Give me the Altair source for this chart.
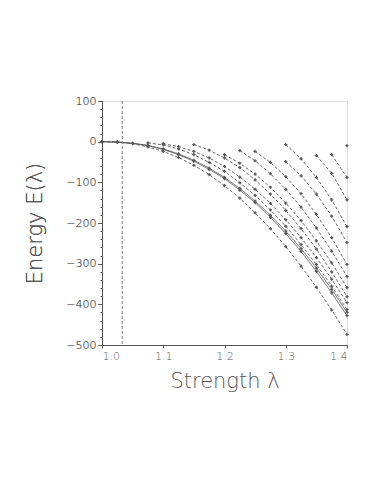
import altair as alt
import pandas as pd

STEP = 0.025

curve_names = ["S1", "S2", "L", "A", "B", "C", "D", "E", "F", "G", "H", "I", "J", "K"]
curve_start = [1.0, 1.0, 1.0, 1.075, 1.1, 1.15, 1.2, 1.225, 1.25, 1.3, 1.3, 1.35, 1.375, 1.4]
curve_kind = ["solid", "solid", "dashed", "dashed", "dashed", "dashed", "dashed",
              "dashed", "dashed", "dashed", "dashed", "dashed", "dashed", "dashed"]

S1 = [0, -1, -4, -10, -19, -32, -48, -68, -91, -119, -150, -186, -226, -270, -319, -372, -428]
S2 = [0, -1, -4, -9, -18, -30, -46, -65, -88, -115, -146, -181, -220, -263, -311, -363, -420]
L = [0, -1, -5, -13, -24, -39, -58, -81, -108, -139, -175, -214, -258, -306, -358, -414, -474]
A = [-3, -8, -18, -32, -51, -73, -101, -132, -168, -208, -253, -302, -355, -413]
B = [-5, -12, -24, -40, -61, -87, -117, -152, -192, -236, -285, -338, -396]
C = [-7, -21, -40, -64, -94, -129, -169, -214, -264, -320, -381]
D = [-32, -53, -80, -112, -151, -194, -244, -298, -359]
E = [-22, -47, -79, -117, -161, -212, -269, -332]
F = [-24, -51, -86, -128, -179, -236, -302]
G = [-7, -42, -88, -143, -209]
H = [-49, -84, -129, -183, -248]
I = [-34, -78, -143]
J = [-32, -88]
K = [-10]
curve_values = [S1, S2, L, A, B, C, D, E, F, G, H, I, J, K]

vline_lambda = 1.033
y_ticks = [-500, -400, -300, -200, -100, 0, 100]
y_minor_ticks = list(range(-500, 101, 20))
x_ticks = [1.0, 1.1, 1.2, 1.3, 1.4]

rows = []
for name, start, kind, vals in zip(curve_names, curve_start, curve_kind, curve_values):
    for i, v in enumerate(vals):
        rows.append({"curve": name, "kind": kind,
                     "lam": round(start + i * STEP, 4), "E": v})
df = pd.DataFrame(rows)

xscale = alt.Scale(domain=[1.0, 1.4], nice=False, zero=False)
yscale = alt.Scale(domain=[-500, 100], nice=False, zero=False)

FONT = "DejaVu Sans"
xaxis = alt.Axis(values=x_ticks, format=".1f", grid=False, title="Strength λ",
                 labelFont=FONT, labelFontSize=11, labelColor="#555", labelFontWeight=200,
                 titleFont=FONT, titleFontSize=21, titleFontWeight=200,
                 titleColor="#555", titlePadding=9, tickSize=3,
                 domainColor="#555", tickColor="#555")
yaxis = alt.Axis(values=y_ticks, format="d", grid=False, title="Energy E(λ)",
                 labelFont=FONT, labelFontSize=11, labelColor="#555", labelFontWeight=200,
                 titleFont=FONT, titleFontSize=21, titleFontWeight=200,
                 titleColor="#555", titlePadding=20, tickSize=4,
                 domainColor="#555", tickColor="#555", orient="left")
yminor = alt.Axis(values=y_minor_ticks, labels=False, grid=False, title=None,
                  tickSize=2, domain=False, tickColor="#555", orient="left")

base = alt.Chart(df)
lines = base.mark_line(color="#555", strokeWidth=0.9).encode(
    x=alt.X("lam:Q", scale=xscale, axis=xaxis),
    y=alt.Y("E:Q", scale=yscale, axis=yaxis),
    detail="curve:N",
    strokeDash=alt.StrokeDash("kind:N", scale=alt.Scale(domain=["solid", "dashed"],
                                                         range=[[1, 0], [3, 2]]), legend=None),
)
pts = base.mark_point(shape="cross", filled=True, size=10, color="#555", opacity=1).encode(
    x=alt.X("lam:Q", scale=xscale),
    y=alt.Y("E:Q", scale=yscale, axis=yaxis),
)
vline = alt.Chart(pd.DataFrame({"lam": [vline_lambda]})).mark_rule(
    color="#555", strokeWidth=0.8, strokeDash=[3, 2]).encode(
    x=alt.X("lam:Q", scale=xscale),
    y=alt.Y(datum=100, scale=yscale, axis=yminor),
    y2=alt.Y2(datum=-500),
)

chart = alt.layer(lines, pts, vline).resolve_axis(y="independent").properties(
    width=245, height=244,
    autosize=alt.AutoSizeParams(type="none"),
    padding={"left": 94, "top": 93, "right": 27, "bottom": 141},
).configure_view(stroke="#666", strokeWidth=1.3).configure(background="white")

chart.save("out.html", embed_options={"renderer": "svg", "actions": False})
